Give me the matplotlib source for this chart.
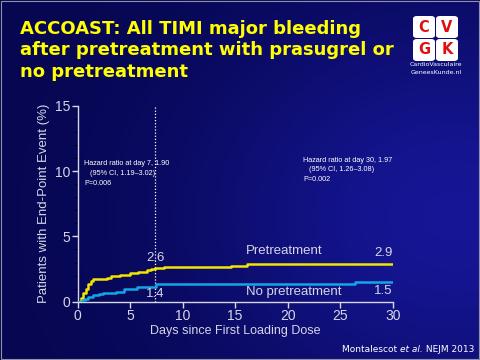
import numpy as np
import matplotlib
matplotlib.use("Agg")
import matplotlib.pyplot as plt
from matplotlib.patches import FancyBboxPatch, Rectangle

# ----- data -----
days_pre = [0, 0.3, 0.55, 0.8, 1.03, 1.3, 1.5, 2.8, 3.2, 4.0, 5.0, 5.8, 6.6, 7.0, 7.4, 8.2, 14.6, 16.1, 17.7, 30]
pct_pre = [0, 0.3, 0.64, 1.0, 1.33, 1.55, 1.71, 1.85, 1.95, 2.05, 2.17, 2.3, 2.42, 2.48, 2.55, 2.63, 2.75, 2.85, 2.9, 2.9]

days_no = [0, 0.4, 0.7, 1.0, 1.5, 2.0, 2.4, 3.7, 4.4, 5.7, 7.4, 7.5, 25.0, 26.4, 30]
pct_no = [0, 0.1, 0.18, 0.35, 0.5, 0.6, 0.69, 0.76, 1.0, 1.1, 1.15, 1.36, 1.38, 1.5, 1.5]

day_mark = 7.4
xticks = [0, 5, 10, 15, 20, 25, 30]
yticks = [0, 5, 10, 15]

title = "ACCOAST: All TIMI major bleeding\nafter pretreatment with prasugrel or\nno pretreatment"
hr7 = ["Hazard ratio at day 7, 1.90", "   (95% CI, 1.19\u20133.02)", "P=0.006"]
hr30 = ["Hazard ratio at day 30, 1.97", "   (95% CI, 1.26\u20133.08)", "P=0.002"]

YELLOW = "#f2e600"
BLUE = "#12a6e6"
LIGHT = "#d6d6e6"
ARIAL = ["Liberation Sans", "DejaVu Sans"]

fig = plt.figure(figsize=(4.8, 3.6), dpi=100)

# ----- background gradient -----
bg = fig.add_axes([0, 0, 1, 1], zorder=-10)
gx, gy = np.meshgrid(np.linspace(0, 1, 240), np.linspace(0, 1, 180))
f = np.exp(-((gx - 0.95) ** 2 / 0.3 + (gy - 0.4) ** 2 / 0.35))
base = np.array([6, 6, 80]) / 255.0
peak = np.array([22, 22, 150]) / 255.0
img = base[None, None, :] + f[:, :, None] * (peak - base)[None, None, :]
bg.imshow(img, origin="lower", extent=[0, 1, 0, 1], aspect="auto")
bg.set_xlim(0, 1); bg.set_ylim(0, 1)
bg.axis("off")
bg.add_patch(Rectangle((0.002, 0.003), 0.996, 0.994, fill=False, ec="#9090a8", lw=0.8))

# ----- main chart -----
ax = fig.add_axes([0.1615, 0.162, 0.6568, 0.544])
ax.set_facecolor("none")
ax.step(days_pre, pct_pre, where="post", color=YELLOW, lw=1.8, zorder=3)
ax.step(days_no, pct_no, where="post", color=BLUE, lw=1.8, zorder=3)
ax.axvline(day_mark, color="white", ls=(0, (1, 1.5)), lw=0.9, zorder=2)

ax.set_xlim(0, 30)
ax.set_ylim(0, 15)
ax.set_xticks(xticks)
ax.set_yticks(yticks)
ax.set_yticks(np.arange(0, 16, 1), minor=True)
for s in ["top", "right"]:
    ax.spines[s].set_visible(False)
for s in ["left", "bottom"]:
    ax.spines[s].set_color(LIGHT)
    ax.spines[s].set_linewidth(1.0)
ax.tick_params(colors=LIGHT, labelcolor=LIGHT, labelsize=10, length=4, width=1, pad=1)
ax.tick_params(which="minor", length=2.5, width=0.8)
for lab in ax.get_xticklabels() + ax.get_yticklabels():
    lab.set_family(ARIAL)
ax.set_xlabel("Days since First Loading Dose", color=LIGHT, fontsize=9, labelpad=2, family=ARIAL)
ax.set_ylabel("Patients with End-Point Event (%)", color=LIGHT, fontsize=9.5, labelpad=4, family=ARIAL)

# annotations
kw = dict(color=LIGHT, fontsize=9.5, family=ARIAL, va="center")
ax.text(day_mark, 3.35, "2.6", ha="center", **kw)
ax.text(day_mark, 0.6, "1.4", ha="center", **kw)
ax.text(16.0, 3.9, "Pretreatment", ha="left", **kw)
ax.text(30, 3.75, "2.9", ha="right", **kw)
ax.text(16.0, 0.72, "No pretreatment", ha="left", **kw)
ax.text(30, 0.8, "1.5", ha="right", **kw)

for i, line in enumerate(hr7):
    ax.text(0.65, 10.55 - i * 0.76, line, color="white", fontsize=5.2, ha="left", va="center", family=ARIAL)
for i, line in enumerate(hr30):
    ax.text(21.5, 10.85 - i * 0.76, line, color="white", fontsize=5.2, ha="left", va="center", family=ARIAL)

# ----- title -----
fig.text(0.042, 0.945, title, color="#ffff00", fontsize=13, fontweight="bold",
         ha="left", va="top", linespacing=1.25)

# ----- logo -----
sq = 22 / 480
sqh = 22 / 360
for (cx, cy, letter) in [(413, 16, "C"), (436, 16, "V"), (413, 39, "G"), (436, 39, "K")]:
    x0 = cx / 480
    y0 = 1 - (cy + 22) / 360
    fig.patches.append(FancyBboxPatch((x0, y0), sq, sqh, boxstyle="round,pad=0,rounding_size=0.008",
                                      transform=fig.transFigure, fc="white", ec="none"))
    fig.text(x0 + sq / 2, y0 + sqh / 2, letter, color="#e01010", fontsize=10.5, fontweight="bold",
             ha="center", va="center")
fig.text(436 / 480, 1 - 65 / 360, "CardioVasculaire", color="white", fontsize=4.5, ha="center", va="center")
fig.text(436 / 480, 1 - 73 / 360, "GeneesKunde.nl", color="white", fontsize=4.5, ha="center", va="center")

# ----- source -----
t1 = fig.text(0.713, 1 - 350 / 360, "Montalescot ", color="white", fontsize=6.5, ha="left", va="center")
t2 = ax.annotate("et al.", xy=(1, 0), xycoords=t1, va="bottom", ha="left", color="white",
                 fontsize=6.5, style="italic", annotation_clip=False)
ax.annotate(" NEJM 2013", xy=(1, 0), xycoords=t2, va="bottom", ha="left", color="white",
            fontsize=6.5, annotation_clip=False)

fig.savefig("out.png", dpi=100)
